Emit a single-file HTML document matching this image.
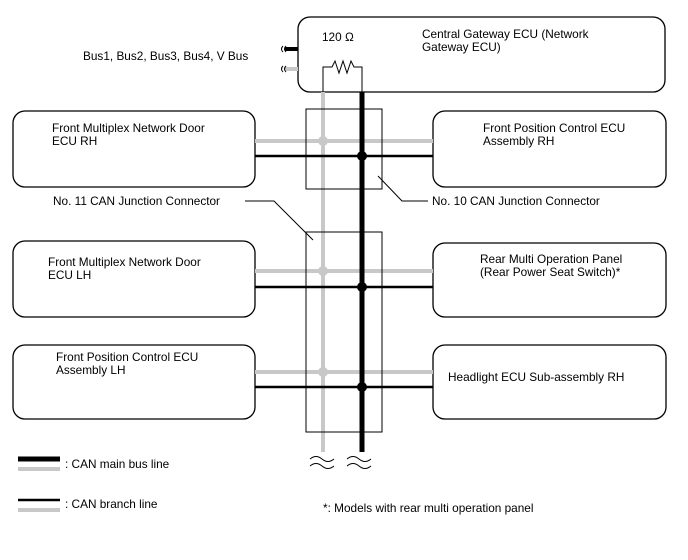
<!DOCTYPE html>
<html><head><meta charset="utf-8"><style>
html,body{margin:0;padding:0;background:#fff;}
svg{display:block;font-family:"Liberation Sans",Arial,sans-serif;font-size:11.8px;}
</style></head><body>
<svg width="688" height="560" viewBox="0 0 688 560" xmlns="http://www.w3.org/2000/svg">
<g fill="none" stroke="#000" stroke-width="1.3">
<rect x="298" y="17" width="367" height="75" rx="12"/>
<rect x="13" y="111" width="242" height="76" rx="12"/>
<rect x="433" y="111" width="233" height="76" rx="12"/>
<rect x="13" y="241" width="242" height="76" rx="12"/>
<rect x="433" y="243" width="233" height="74" rx="12"/>
<rect x="13" y="345" width="242" height="74" rx="12"/>
<rect x="433" y="345" width="233" height="74" rx="12"/>
</g>
<g stroke="#c8c8c8" stroke-width="4">
<line x1="323" y1="92" x2="323" y2="452"/>
<line x1="255" y1="141" x2="433" y2="141"/>
<line x1="255" y1="271" x2="433" y2="271"/>
<line x1="255" y1="372" x2="433" y2="372"/>
<line x1="285" y1="69" x2="298" y2="69"/>
<line x1="18" y1="469" x2="60" y2="469"/>
<line x1="18" y1="510" x2="60" y2="510"/>
</g>
<g fill="#c8c8c8"><circle cx="323" cy="141" r="5"/><circle cx="323" cy="271" r="5"/><circle cx="323" cy="372" r="5"/></g>
<g stroke="#000">
<line x1="362" y1="92" x2="362" y2="452" stroke-width="5"/>
<line x1="255" y1="156" x2="433" y2="156" stroke-width="2.5"/>
<line x1="255" y1="287" x2="433" y2="287" stroke-width="2.5"/>
<line x1="255" y1="387" x2="433" y2="387" stroke-width="2.5"/>
<line x1="285" y1="49" x2="298" y2="49" stroke-width="4"/>
<line x1="18" y1="459" x2="60" y2="459" stroke-width="5"/>
<line x1="18" y1="500" x2="60" y2="500" stroke-width="2.5"/>
</g>
<g fill="#000"><circle cx="362" cy="156" r="5"/><circle cx="362" cy="287" r="5"/><circle cx="362" cy="387" r="5"/></g>
<g fill="none" stroke="#000" stroke-width="1">
<rect x="306" y="109" width="76" height="80"/>
<rect x="306" y="232" width="76" height="200"/>
<polyline points="323,92 323,67 332,67 335,61 339,73 343,61 347,73 351,61 354,67 362,67 362,92"/>
<polyline points="378,176 402,201 428,201"/>
<polyline points="245,201 274,201 313,240"/>
<path d="M310,459 q6,-5 12,0 t12,0 M310,466 q6,-5 12,0 t12,0 M347,459 q6,-5 12,0 t12,0 M347,466 q6,-5 12,0 t12,0"/>
<path d="M283,46 q-3,3 0,6 M286,46 q-3,3 0,6 M283,66 q-3,3 0,6 M286,66 q-3,3 0,6"/>
</g>
<g fill="#000">
<text x="83" y="60">Bus1, Bus2, Bus3, Bus4, V Bus</text>
<text x="322" y="41">120 Ω</text>
<text x="422" y="38">Central Gateway ECU (Network</text>
<text x="422" y="51">Gateway ECU)</text>
<text x="52" y="132">Front Multiplex Network Door</text>
<text x="52" y="145">ECU RH</text>
<text x="483" y="132">Front Position Control ECU</text>
<text x="483" y="145">Assembly RH</text>
<text x="53" y="205">No. 11 CAN Junction Connector</text>
<text x="432" y="205">No. 10 CAN Junction Connector</text>
<text x="48" y="266">Front Multiplex Network Door</text>
<text x="48" y="279">ECU LH</text>
<text x="480" y="263">Rear Multi Operation Panel</text>
<text x="480" y="276">(Rear Power Seat Switch)*</text>
<text x="56" y="361">Front Position Control ECU</text>
<text x="56" y="374">Assembly LH</text>
<text x="448" y="381">Headlight ECU Sub-assembly RH</text>
<text x="65" y="468">: CAN main bus line</text>
<text x="65" y="508">: CAN branch line</text>
<text x="323" y="512">*: Models with rear multi operation panel</text>
</g>
</svg>
</body></html>
